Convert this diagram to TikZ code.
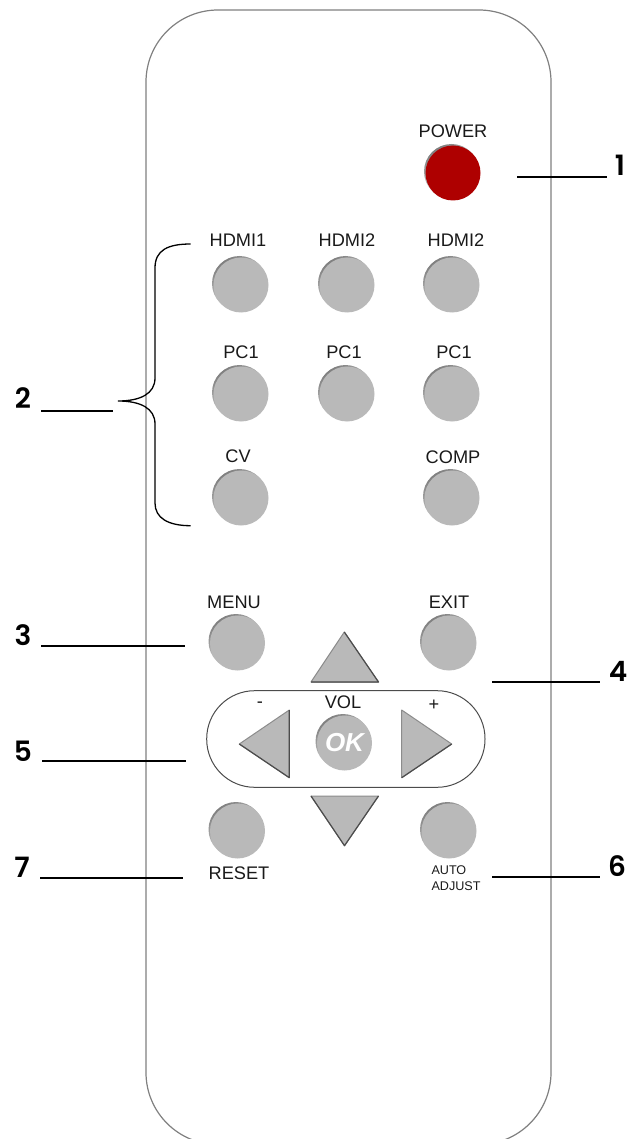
\documentclass[tikz,border=0pt]{standalone}
\usepackage{fontspec}
\setmainfont{Liberation Sans}
\newfontfamily\numfont{Poppins SemiBold}
\usepackage{tikz}
\usetikzlibrary{calc}
\definecolor{keygray}{HTML}{B9B9B9}
\definecolor{keyred}{HTML}{AE0000}
\tikzset{
	key/.style={circle,inner sep=0pt,minimum size=55pt,fill=keygray,
		preaction={shade,top color=black!50,middle color=white,bottom color=white,shading angle=35,
			transform canvas={shift={(-1.5pt,1.5pt)}}}},
	tag/.style={inner sep=0pt,font=\fontsize{18.2}{18.2}\selectfont,text=black!90},
	num/.style={inner sep=0pt,font=\fontsize{28}{28}\selectfont\numfont},
	arrowkey/.style={fill=keygray,draw=black!45,line width=1pt,line join=round},
	arrowedge/.style={draw=black!70,line width=1.2pt,line join=round},
	leader/.style={line width=1.3pt},
}
\begin{document}
\begin{tikzpicture}[x=1pt,y=-1pt]
	\useasboundingbox (0,0) rectangle (636,1139);
	% remote body
	\draw[line width=1.2pt,black!50,rounded corners=72pt] (146,10) rectangle (551,1144.5);
	% power
	\node[key,fill=keyred] (power) at (453,173) {};
	\node[tag] (powertag) at (453,131) {POWER};
	% input keys
	\node[key] (hdmia) at (241,285) {};
	\node[key] (hdmib) at (347,285) {};
	\node[key] (hdmic) at (452,285) {};
	\node[key] (pca) at (241,394) {};
	\node[key] (pcb) at (347,394) {};
	\node[key] (pcc) at (452,394) {};
	\node[key] (cv) at (241,498) {};
	\node[key] (comp) at (452,498) {};
	\node[tag] (hdmiatag) at (238,240) {HDMI1};
	\node[tag] (hdmibtag) at (347,240) {HDMI2};
	\node[tag] (hdmictag) at (456,240) {HDMI2};
	\node[tag] (pcatag) at (241,352) {PC1};
	\node[tag] (pcbtag) at (344,352) {PC1};
	\node[tag] (pcctag) at (454,352) {PC1};
	\node[tag] (cvtag) at (238,456) {CV};
	\node[tag] (comptag) at (453,457) {COMP};
	% menu block
	\node[key] (menu) at (237.5,643) {};
	\node[key] (exit) at (449,643) {};
	\node[key] (reset) at (237.5,831) {};
	\node[key] (auto) at (449,831) {};
	\node[tag] (menutag) at (234,602) {MENU};
	\node[tag] (exittag) at (449,602) {EXIT};
	\node[tag] (resettag) at (239,873) {RESET};
	\node[inner sep=0pt,font=\fontsize{12.6}{16}\selectfont,align=left,text=black!90] (autotag) at (456,878.5) {AUTO\\ADJUST};
	% volume pill
	\draw[line width=1pt,black!70,rounded corners=48pt] (206.7,690.7) rectangle (485,787.3);
	\node[tag] (voltag) at (343,702) {VOL};
	\node[tag] (minustag) at (260,705) {-};
	\node[tag] (plustag) at (434,705) {+};
	\node[key] (ok) at (344.5,743) {\fontsize{26}{26}\selectfont\color{white}\bfseries\itshape OK};
	% arrows
	\draw[arrowkey] (344.3,632) -- (378.5,682) -- (311,682) -- cycle;
	\draw[arrowedge] (344.3,632) -- (378.5,682) -- (311,682);
	\draw[arrowkey] (344.5,845.7) -- (378.5,796) -- (311,796) -- cycle;
	\draw[arrowedge] (378.5,796) -- (344.5,845.7) -- (311,796);
	\draw[arrowkey] (239.3,744) -- (289.3,710) -- (289.3,777.7) -- cycle;
	\draw[arrowedge] (289.3,710) -- (289.3,777.7) -- (239.3,744);
	\draw[arrowkey] (451.7,744) -- (401.7,710) -- (401.7,777.7) -- cycle;
	\draw[arrowedge] (451.7,744) -- (401.7,777.7);
	% brace
	\draw[leader] (190.7,244) .. controls (168,244) and (155,250) .. (155,268) -- (155,378)
		.. controls (155,394) and (140,401) .. (118,401) .. controls (140,401) and (155,408) .. (155,424)
		-- (155,503) .. controls (155,518) and (168,525.7) .. (190.7,525.7);
	% callouts
	\node[num] (one) at (620,165) {1};
	\node[num] (two) at (23,398) {2};
	\node[num] (three) at (23,635) {3};
	\node[num] (four) at (618,671) {4};
	\node[num] (five) at (23,751) {5};
	\node[num] (six) at (617,866) {6};
	\node[num] (seven) at (22,867) {7};
	\coordinate (onea) at (517,177); \coordinate (oneb) at (607,177);
	\coordinate (twoa) at (41,411); \coordinate (twob) at (113,411);
	\coordinate (threea) at (41,646); \coordinate (threeb) at (185,646);
	\coordinate (foura) at (492,682); \coordinate (fourb) at (600,682);
	\coordinate (fivea) at (42,761); \coordinate (fiveb) at (186,761);
	\coordinate (sixa) at (492,877); \coordinate (sixb) at (600,877);
	\coordinate (sevena) at (40,878); \coordinate (sevenb) at (183,878);
	\draw[leader] (onea) -- (oneb);
	\draw[leader] (twoa) -- (twob);
	\draw[leader] (threea) -- (threeb);
	\draw[leader] (foura) -- (fourb);
	\draw[leader] (fivea) -- (fiveb);
	\draw[leader] (sixa) -- (sixb);
	\draw[leader] (sevena) -- (sevenb);
\end{tikzpicture}
\end{document}
